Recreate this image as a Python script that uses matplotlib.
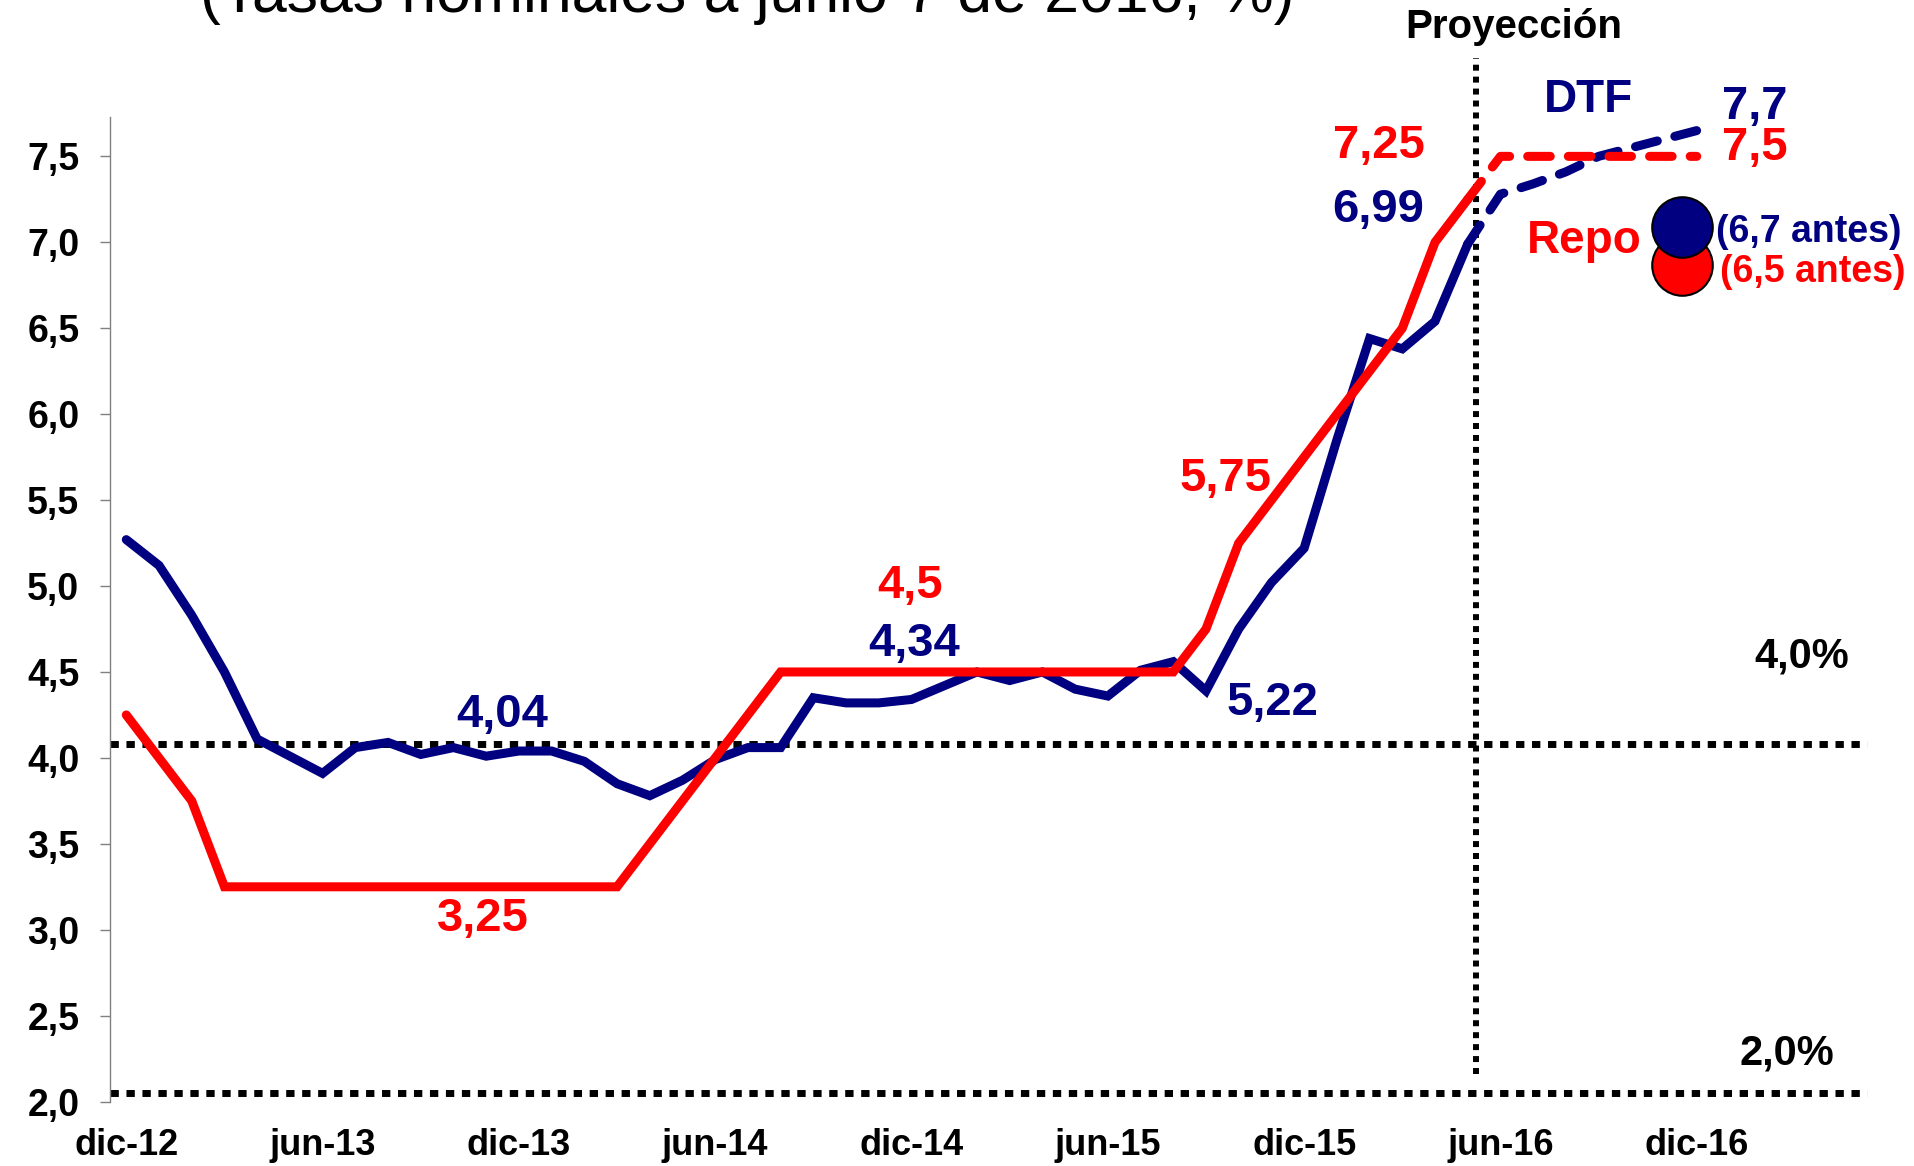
import numpy as np
import matplotlib.pyplot as plt

plt.rcParams['font.family'] = ['Liberation Sans', 'DejaVu Sans']

# eje mensual: indice 0 = dic-12
xlabels = ['dic-12', 'jun-13', 'dic-13', 'jun-14', 'dic-14', 'jun-15', 'dic-15', 'jun-16', 'dic-16']
xlabel_pos = [0, 6, 12, 18, 24, 30, 36, 42, 48]
yticks = [2.0, 2.5, 3.0, 3.5, 4.0, 4.5, 5.0, 5.5, 6.0, 6.5, 7.0, 7.5]

# DTF observada dic-12 .. may-16
dtf = [5.27, 5.12, 4.83, 4.50, 4.11, 4.01, 3.91, 4.06, 4.09, 4.02, 4.06, 4.01,
       4.04, 4.04, 3.98, 3.85, 3.78, 3.87, 3.99, 4.06, 4.06, 4.35, 4.32, 4.32,
       4.34, 4.42, 4.50, 4.45, 4.50, 4.40, 4.36, 4.51, 4.56, 4.39, 4.75, 5.02,
       5.22, 5.85, 6.44, 6.38, 6.54, 6.99]
# tasa repo dic-12 .. may-16
repo = [4.25, 4.00, 3.75, 3.25, 3.25, 3.25, 3.25, 3.25, 3.25, 3.25, 3.25, 3.25,
        3.25, 3.25, 3.25, 3.25, 3.50, 3.75, 4.00, 4.25, 4.50, 4.50, 4.50, 4.50,
        4.50, 4.50, 4.50, 4.50, 4.50, 4.50, 4.50, 4.50, 4.50, 4.75, 5.25, 5.50,
        5.75, 6.00, 6.25, 6.50, 7.00, 7.25]
# proyeccion may-16 .. dic-16
dtf_proj = [6.99, 7.28, 7.34, 7.41, 7.50, 7.55, 7.60, 7.65]
repo_proj = [7.25, 7.50, 7.50, 7.50, 7.50, 7.50, 7.50, 7.50]

meta_sup = 4.08
meta_inf = 2.05
corte = 41.25

navy = '#000080'
red = '#FF0000'

fig = plt.figure(figsize=(19.15, 11.66), dpi=100)
ax = fig.add_axes([0.0574, 0.0552, 0.9226, 0.8446])

x_obs = np.arange(len(dtf))
x_proj = np.arange(len(dtf) - 1, len(dtf) - 1 + len(dtf_proj))

dots = dict(color='black', lw=5, linestyle=(0, (1.2, 1.1)), dash_capstyle='butt')
ax.plot([-0.5, 53.2], [meta_sup, meta_sup], **dots)
ax.plot([-0.5, 53.2], [meta_inf, meta_inf], clip_on=False, **dots)
ax.plot([corte, corte], [2.16, 8.07], color='black', lw=4.3,
        linestyle=(0, (1.0, 1.0)), dash_capstyle='butt', clip_on=False)

ax.plot(x_obs, dtf, color=navy, lw=6.5, solid_joinstyle='miter', solid_capstyle='round')
ax.plot(x_obs, repo, color=red, lw=6.5, solid_joinstyle='miter', solid_capstyle='round')
ax.plot(x_proj, dtf_proj, color=navy, lw=6.5, linestyle=(0, (2.5, 2.0)),
        dash_capstyle='round', clip_on=False)
ax.plot(x_proj, repo_proj, color=red, lw=6.5, linestyle=(0, (2.5, 2.0)),
        dash_capstyle='round', clip_on=False)

ax.set_xlim(-0.5, 53.5)
ax.set_ylim(2.0, 7.73)
ax.set_xticks(xlabel_pos)
ax.set_xticklabels(xlabels, fontsize=26, fontweight='bold')
ax.set_yticks(yticks)
ax.set_yticklabels([('%.1f' % v).replace('.', ',') for v in yticks],
                   fontsize=27, fontweight='bold')
ax.tick_params(axis='x', length=0, pad=19)
ax.tick_params(axis='y', length=7, width=1, color='#808080', pad=15)
for s in ['top', 'right', 'bottom']:
    ax.spines[s].set_visible(False)
ax.spines['left'].set_color('#808080')
ax.spines['left'].set_linewidth(1)

num = dict(fontsize=34, fontweight='bold', ha='center', va='center')
ax.text(11.5, 4.25, '4,04', color=navy, **num)
ax.text(10.9, 3.06, '3,25', color=red, **num)
ax.text(23.95, 5.0, '4,5', color=red, **num)
ax.text(24.07, 4.66, '4,34', color=navy, **num)
ax.text(35.04, 4.32, '5,22', color=navy, **num)
ax.text(33.6, 5.62, '5,75', color=red, **num)
ax.text(38.3, 7.56, '7,25', color=red, **num)
ax.text(38.25, 7.19, '6,99', color=navy, **num)
ax.text(49.78, 7.79, '7,7', color=navy, **num)
ax.text(49.78, 7.55, '7,5', color=red, **num)
ax.text(44.7, 7.83, 'DTF', color=navy, fontsize=33, fontweight='bold', ha='center', va='center')
ax.text(44.55, 7.01, 'Repo', color=red, fontsize=33, fontweight='bold', ha='center', va='center')
ax.text(42.4, 8.25, 'Proyección', color='black', fontsize=29, fontweight='bold',
        ha='center', va='center')

ax.scatter([47.54], [6.87], s=1900, color=red, edgecolors='black', linewidths=1.5,
           zorder=5, clip_on=False)
ax.scatter([47.54], [7.09], s=1900, color=navy, edgecolors='black', linewidths=1.5,
           zorder=6, clip_on=False)
ax.text(48.6, 7.06, '(6,7 antes)', color=navy, fontsize=27, fontweight='bold',
        ha='left', va='center')
ax.text(48.7, 6.83, '(6,5 antes)', color=red, fontsize=27, fontweight='bold',
        ha='left', va='center')

ax.text(51.2, 4.59, '4,0%', color='black', fontsize=30, fontweight='bold', ha='center', va='center')
ax.text(50.75, 2.28, '2,0%', color='black', fontsize=30, fontweight='bold', ha='center', va='center')

fig.text(0.39, 0.9897, '(Tasas nominales a junio 7 de 2016, %)', fontsize=45,
         ha='center', va='baseline')

fig.savefig('out.png', dpi=100)
